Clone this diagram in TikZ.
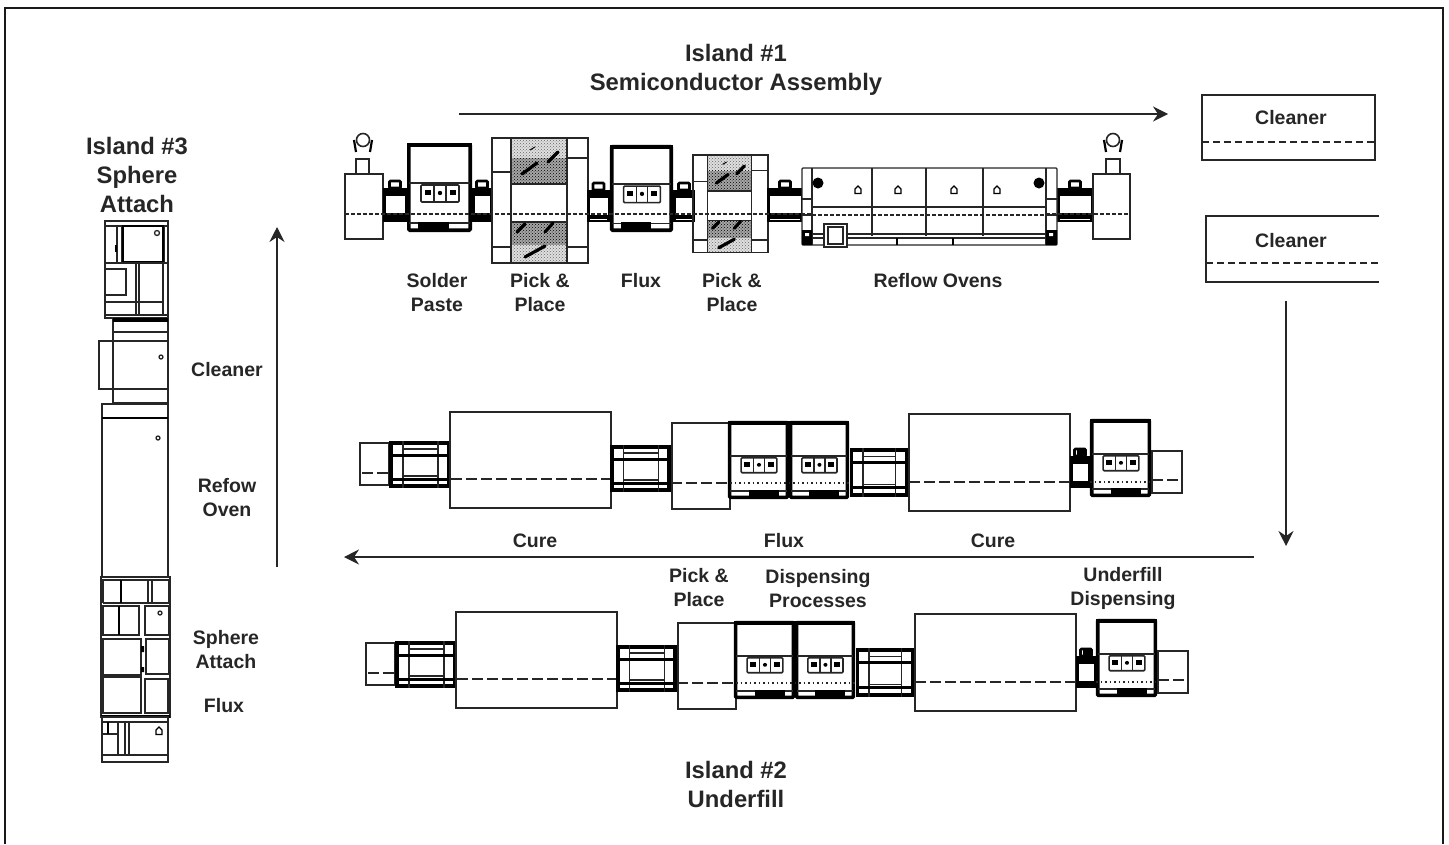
\documentclass[tikz,border=0pt]{standalone}
\usepackage{fontspec}
\setmainfont{Liberation Sans}
\usetikzlibrary{arrows.meta,patterns}

\tikzset{
  part/.style={draw=black!85, line width=1.3pt},
  heavy/.style={draw=black, line width=3.6pt},
  rowdash/.style={draw=black!85, line width=1.2pt, dash pattern=on 3.5pt off 2.5pt},
  longdash/.style={draw=black!85, line width=1.3pt, dash pattern=on 11pt off 4pt},
  flow/.style={draw=black!85, line width=1.3pt,
    -{Stealth[length=15pt,width=15pt,inset=5pt]}},
  lbl/.style={font=\fontsize{19.5}{24}\selectfont\bfseries, text=black!85, align=center, inner sep=0pt},
  heading/.style={font=\fontsize{23.8}{29}\selectfont\bfseries, text=black!85, align=center, inner sep=0pt}
}

% left, top, width, height, bar start, bar end
\newcommand{\dispenser}[6]{
  \begin{scope}[shift={(#1,#2)}, xscale=#3/65, yscale=#4/89]
    \draw[heavy, fill=white, rounded corners=1pt] (1.8,1.8) rectangle (63.2,87.2);
    \draw[black, line width=4.4pt] (0,2.2) -- (65,2.2);
    \draw[part] (2,40) -- (63,40);
    \draw[part] (2,80) -- (63,80);
    \fill[black] (#5,79) rectangle (#6,89);
    \draw[part, line width=1.6pt, fill=white, rounded corners=1pt] (14,42) rectangle (52,59);
    \draw[part] (27,42) -- (27,59) (39,42) -- (39,59);
    \fill[black] (17.5,47) rectangle (23.5,52);
    \fill[black] (33,50) circle[radius=2.2];
    \fill[black] (42.5,47) rectangle (48.5,52);
  \end{scope}
}

% small transfer unit with a handle on top
\newcommand{\feeder}[4]{
  \fill[black] (#1,#2) rectangle ({#1+#3},{#2+#4});
  \fill[white] ({#1+2.5},{#2+8}) rectangle ({#1+#3-2.5},{#2+25});
  \draw[black, line width=2.6pt, rounded corners=1pt, fill=white]
    ({#1+#3/2-5.5},#2) rectangle ({#1+#3/2+5.5},{#2-7});
}

% framed conveyor, drawn on a 62 x 47 grid
\newcommand{\conveyor}[4]{
  \begin{scope}[shift={(#1,#2)}, xscale=#3/62, yscale=#4/47]
    \draw[heavy, fill=white] (1.8,1.8) rectangle (60.2,45.2);
    \draw[part] (14,0) -- (14,47) (49,0) -- (49,47);
    \draw[part] (14,8) -- (49,8) (14,35) -- (49,35);
    \draw[black, line width=3pt] (0,14) -- (62,14) (0,38) -- (62,38);
  \end{scope}
}

% placement machine, drawn at full size and scaled by the last argument
\newcommand{\pickplace}[3]{
  \begin{scope}[shift={(#1,#2)}, scale=#3]
    \fill[gray!25] (19,0) rectangle (75,20);
    \fill[pattern=crosshatch dots, pattern color=black!60] (19,0) rectangle (75,20);
    \fill[gray!70] (19,20) rectangle (75,46);
    \fill[pattern=crosshatch dots, pattern color=black] (19,20) rectangle (75,46);
    \fill[gray!70] (19,84) rectangle (75,107);
    \fill[pattern=crosshatch dots, pattern color=black] (19,84) rectangle (75,107);
    \fill[gray!25] (19,107) rectangle (75,125);
    \fill[pattern=crosshatch dots, pattern color=black!60] (19,107) rectangle (75,125);
    \draw[part] (0,0) rectangle (96,125);
    \draw[part] (19,0) -- (19,125) (75,0) -- (75,125);
    \draw[part] (0,34) -- (19,34) (0,109) -- (19,109);
    \draw[part] (75,20) -- (96,20) (75,109) -- (96,109);
    \draw[part] (19,46) -- (75,46) (19,84) -- (75,84);
    \draw[black, line width=3.2pt, line cap=round]
      (30,36) -- (45,25) (56,24) -- (66,14) (25,94) -- (33,86)
      (53,94) -- (61,85) (33,119) -- (53,108);
    \draw[black, line width=1pt] (38,12) -- (43,9);
  \end{scope}
}

\newcommand{\robot}[2]{
  \draw[part, line width=1.6pt] (#1,{#2-3}) circle[radius=6.5];
  \draw[black, line width=2.2pt] ({#1-9},{#2-3}) -- ({#1-7},{#2+9});
  \draw[black, line width=2.2pt] ({#1+9},{#2-3}) -- ({#1+7},{#2+9});
}

\newcommand{\knob}[2]{
  \draw[black, line width=1.2pt, fill=white]
    ({#1-3},{#2+3.5}) -- ({#1-3},{#2-1}) -- (#1,{#2-4}) -- ({#1+3},{#2-1}) -- ({#1+3},{#2+3.5}) -- cycle;
}

\begin{document}
\begin{tikzpicture}[x=1pt, y=-1pt]
  \useasboundingbox (0,0) rectangle (1449,844);
  \draw[black!90, line width=1.3pt] (5,844) -- (5,8) -- (1443,8) -- (1443,844);

  % --- Island 1 ---
  \draw[part, fill=white] (345,174) rectangle (383,239);
  \draw[part] (356,159) rectangle (369,174);
  \robot{363}{143}
  \feeder{383}{188}{24}{34}
  \dispenser{407}{143}{65}{89}{11}{42}
  \feeder{472}{188}{20}{34}
  \pickplace{492}{138}{1}
  \feeder{587}{190}{23}{32}
  \dispenser{610}{145}{63}{87}{11}{42}
  \feeder{673}{190}{22}{32}
  \pickplace{693}{155}{0.78}
  \feeder{767}{188}{36}{34}
  \feeder{1057}{188}{36}{34}
  \foreach \slitx/\slitw in {587/23, 673/22, 767/36, 1057/36} {
    \draw[white, line width=1pt] (\slitx+3,219) -- (\slitx+\slitw-3,219);
  }
  \draw[part] (1093,174) rectangle (1130,239);
  \draw[part] (1106,159) rectangle (1120,174);
  \robot{1113}{143}

  % Reflow ovens
  \draw[part, fill=white, rounded corners=1pt] (802,168) rectangle (1057,245);
  \draw[part] (812,168) -- (812,245) (1046,168) -- (1046,245);
  \foreach \ovenx in {872,926,983} {
    \draw[part] (\ovenx,168) -- (\ovenx,236);
  }
  \draw[part] (812,207) -- (1046,207);
  \draw[part] (802,199) -- (812,199) (802,215) -- (812,215);
  \draw[part] (1046,199) -- (1057,199) (1046,215) -- (1057,215);
  \draw[part] (812,234) -- (1046,234) (812,238) -- (1046,238);
  \draw[black, line width=2pt] (897,238) -- (897,245) (953,238) -- (953,245);
  \fill[black] (802,230) rectangle (812,245) (1046,230) rectangle (1057,245);
  \fill[white] (805,233) rectangle (809,236) (1049,233) rectangle (1053,236);
  \draw[part, fill=white] (824,224) rectangle (847,247);
  \draw[part] (828,227) -- (828,244) -- (843,244) -- (843,227) -- cycle;
  \fill[black] (818,183) circle[radius=5.5] (1039,183) circle[radius=5.5];
  \foreach \knobx in {858,898,954,997} {
    \knob{\knobx}{190}
  }
  \draw[rowdash] (345,214) -- (812,214) (1046,214) -- (1130,214);
  \draw[rowdash, line width=1.6pt] (812,215) -- (1046,215);

  % --- Island 2 (two identical lines) ---
  \foreach \rowdx/\rowdy in {0/0, 6/200} {
    \begin{scope}[shift={(\rowdx,\rowdy)}]
      \draw[part] (360,443) rectangle (389,485);
      \draw[longdash] (362,473) -- (389,473);
      \conveyor{389}{441}{62}{47}
      \draw[part] (450,412) rectangle (611,508);
      \conveyor{610}{445}{61}{47}
      \draw[part] (672,423) rectangle (730,509);
      \dispenser{728}{421}{61}{78}{22}{54}
      \dispenser{789}{421}{60}{78}{22}{54}
      \conveyor{850}{448}{58}{49}
      \draw[part] (909,414) rectangle (1070,511);
      \feeder{1070}{456}{20}{32}
      \fill[black] (1077,448) rectangle (1086,456);
      \dispenser{1090}{419}{61}{78}{22}{54}
      \draw[part] (1152,451) rectangle (1182,493);
      \draw[longdash] (1152,480) -- (1180,480);
      \draw[longdash] (451,479) -- (610,479) (671,483) -- (730,483) (909,482) -- (1070,482);
      \draw[rowdash, dash pattern=on 1.5pt off 3pt] (730,483) -- (849,483) (1090,482) -- (1151,482);
    \end{scope}
  }

  % --- Island 3 ---
  \draw[part] (105,221) rectangle (168,318);
  \draw[part] (105,226) -- (168,226);
  \draw[part] (117,226) -- (117,262) (122,226) -- (122,262) (164,226) -- (164,263);
  \draw[black, line width=2pt] (123,226) rectangle (163,262);
  \draw[black, line width=2pt] (116,245) -- (116,252);
  \draw[part] (105,263) -- (168,263);
  \draw[part] (105,269) -- (126,269) -- (126,295) -- (105,295);
  \draw[part] (136,263) -- (136,315) (139,263) -- (139,315) (163,263) -- (163,315);
  \draw[part] (105,302) -- (163,302) (105,315) -- (168,315);
  \draw[part] (157,233) circle[radius=2.5];
  \draw[part] (113,318) rectangle (168,403);
  \fill[black] (113,318) rectangle (168,322);
  \draw[part] (113,332) -- (168,332) (113,341) -- (168,341) (113,389) -- (168,389);
  \draw[part] (99,341) rectangle (113,389);
  \draw[part] (161,357) circle[radius=2];
  \draw[part] (102,404) rectangle (168,577);
  \draw[black, line width=2pt] (102,418) -- (168,418);
  \draw[part] (158,438) circle[radius=2];
  \draw[part] (101,577) rectangle (170,717);
  \draw[part] (101,580) -- (170,580);
  \draw[part] (103,603) -- (169,603) (103,580) -- (103,603) (148,580) -- (148,603) (152,580) -- (152,603) (169,580) -- (169,603);
  \draw[black, line width=2.4pt] (121,580) -- (121,603);
  \draw[part] (103,606) rectangle (139,635);
  \draw[black, line width=2pt] (119,606) -- (119,635);
  \draw[part] (145,606) rectangle (169,635);
  \draw[part] (103,639) rectangle (141,675);
  \draw[part] (146,639) rectangle (169,674);
  \draw[part] (103,677) rectangle (141,713);
  \draw[part] (145,679) rectangle (168,713);
  \fill[black] (141,646) rectangle (144,652) (141,667) rectangle (144,672);
  \draw[part] (160,613) circle[radius=2];
  \draw[black, line width=3pt] (101,716) -- (170,716);
  \draw[part] (102,717) rectangle (168,762);
  \draw[part] (102,722) -- (168,722) (102,734) -- (118,734) (102,755) -- (168,755);
  \draw[black, line width=2pt] (108,722) -- (108,734);
  \draw[part] (118,722) -- (118,755) (125,722) -- (125,755) (129,722) -- (129,755);
  \knob{159}{731}

  % --- Cleaners ---
  \draw[part] (1202,95) rectangle (1375,160);
  \draw[longdash, dash pattern=on 7pt off 4pt] (1202,142) -- (1375,142);
  \draw[part] (1379,216) -- (1206,216) -- (1206,282) -- (1379,282);
  \draw[longdash, dash pattern=on 7pt off 4pt] (1206,263) -- (1379,263);

  % --- Flow arrows ---
  \coordinate (islandA) at (459,114);
  \coordinate (islandAend) at (1168,114);
  \coordinate (cleanOut) at (1286,301);
  \coordinate (cleanEnd) at (1286,546);
  \coordinate (islandB) at (1254,557);
  \coordinate (islandBend) at (344,557);
  \coordinate (islandC) at (277,567);
  \coordinate (islandCend) at (277,227);
  \draw[flow] (islandA) -- (islandAend);
  \draw[flow] (cleanOut) -- (cleanEnd);
  \draw[flow] (islandB) -- (islandBend);
  \draw[flow] (islandC) -- (islandCend);

  % --- Labels ---
  \node[heading] (titleA) at (736,69.5) {Island \#1\\Semiconductor Assembly};
  \node[heading] (titleB) at (736,784) {Island \#2\\Underfill};
  \node[heading] (titleC) at (137,174.5) {Island \#3\\Sphere\\Attach};
  \node[lbl] (cleanA) at (1291,118) {Cleaner};
  \node[lbl] (cleanB) at (1291,241) {Cleaner};
  \node[lbl] (solder) at (437,292.5) {Solder\\Paste};
  \node[lbl] (pickA) at (540,292.5) {Pick \&\\Place};
  \node[lbl] (fluxA) at (641,281) {Flux};
  \node[lbl] (pickB) at (732,292.5) {Pick \&\\Place};
  \node[lbl] (reflow) at (938,281) {Reflow Ovens};
  \node[lbl] (cureA) at (535,541) {Cure};
  \node[lbl] (fluxB) at (784,541) {Flux};
  \node[lbl] (cureB) at (993,541) {Cure};
  \node[lbl] (pickC) at (699,588) {Pick \&\\Place};
  \node[lbl] (dispense) at (818,589) {Dispensing\\Processes};
  \node[lbl] (underfill) at (1123,588.5) {Underfill\\Dispensing};
  \node[lbl] (cleanC) at (227,370) {Cleaner};
  \node[lbl] (refow) at (227,498) {Refow\\Oven};
  \node[lbl] (sphere) at (226,650) {Sphere\\Attach};
  \node[lbl] (fluxC) at (224,706) {Flux};
\end{tikzpicture}
\end{document}
